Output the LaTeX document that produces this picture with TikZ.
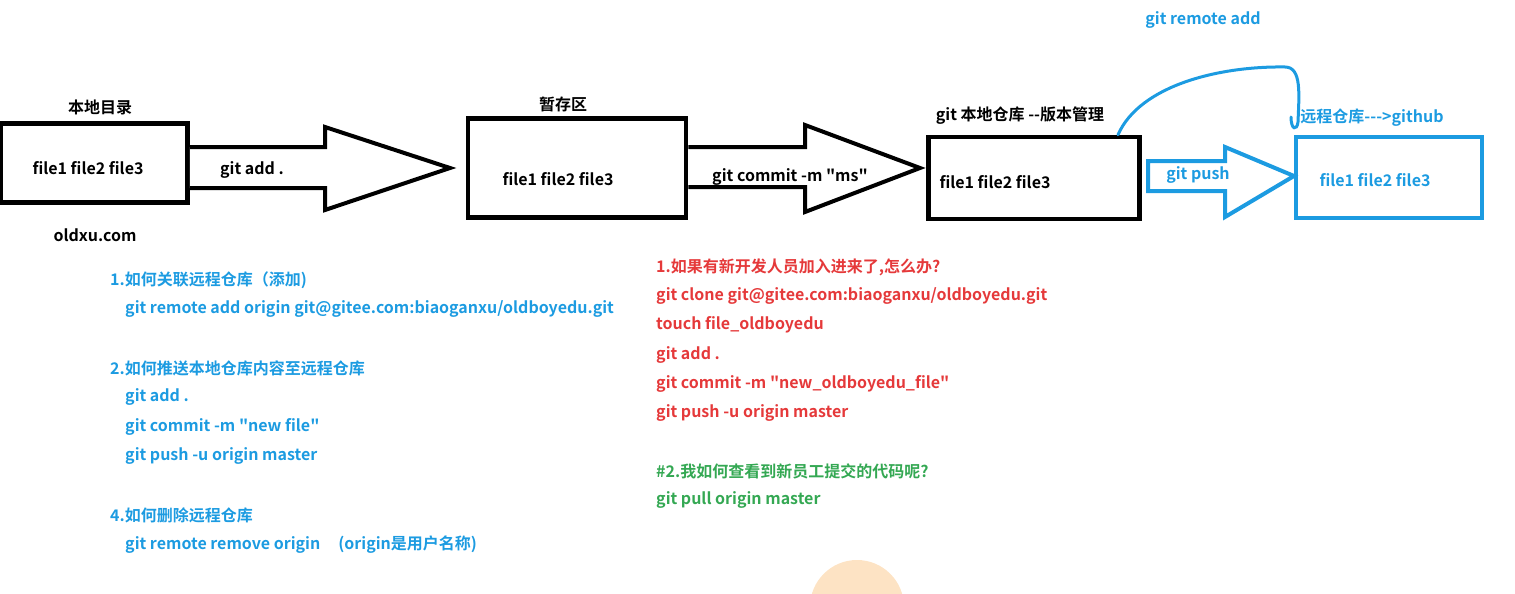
\documentclass[tikz,border=0pt]{standalone}
\usepackage{fontspec}
\newfontfamily\gitfont{Noto Sans CJK SC}[BoldFont={Noto Sans CJK SC Bold}]
\usetikzlibrary{positioning}
\definecolor{gitblue}{RGB}{28,155,225}
\definecolor{gitred}{RGB}{229,57,58}
\definecolor{gitgreen}{RGB}{52,168,83}
\definecolor{peach}{RGB}{253,227,196}
\tikzset{box/.style={draw=black,line width=4.5pt,inner sep=0pt},
  rbox/.style={draw=gitblue,line width=4pt,inner sep=0pt},
  blockarrow/.style={draw=black,line width=4pt,line join=miter,fill=white},
  lbl/.style={font=\gitfont\fontsize{16}{18}\selectfont\bfseries,inner sep=0pt},
  files/.style={lbl},
  note/.style={lbl,anchor=west,text=gitblue},
  redline/.style={lbl,anchor=west,text=gitred},
  greenline/.style={lbl,anchor=west,text=gitgreen}}
\begin{document}
\begin{tikzpicture}[x=1pt,y=-1pt]
  \useasboundingbox (0,0) rectangle (1515,594);
  \fill[peach] (857,607) circle (47);

  % the four places
  \node[box,minimum width=187,minimum height=79] (workdir) at (94,163) {};
  \node[box,minimum width=218,minimum height=99] (stage) at (577,168) {};
  \node[box,minimum width=211,minimum height=82] (repo) at (1034,178) {};
  \node[rbox,minimum width=186,minimum height=81] (remote) at (1389,177) {};

  \node[lbl] (workdirlbl) at (100,107) {本地目录};
  \node[lbl] (stagelbl) at (563,104) {暂存区};
  \node[lbl] (repolbl) at (1020,116) {git 本地仓库 --版本管理};
  \node[lbl,text=gitblue] (remotelbl) at (1372,118) {远程仓库--->github};
  \node[lbl] (site) at (95,235) {oldxu.com};

  \node[files] (f1) at ([shift={(-6,5)}]workdir.center) {file1 file2 file3};
  \node[files] (f2) at ([shift={(-19,11)}]stage.center) {file1 file2 file3};
  \node[files] (f3) at ([shift={(-39,4)}]repo.center) {file1 file2 file3};
  \node[files,text=gitblue] (f4) at ([shift={(-14,3)}]remote.center) {file1 file2 file3};

  % block arrows
  \draw[blockarrow] (workdir.east|-0,147) -- (325,147) -- (325,127) -- (450,168)
    -- (325,210) -- (325,188) -- (workdir.east|-0,188);
  \node[lbl] (addlbl) at (252,170) {git add .};
  \draw[blockarrow] (stage.east|-0,147) -- (805,147) -- (805,125) -- (920,168)
    -- (805,212) -- (805,187) -- (stage.east|-0,187);
  \node[lbl] (commitlbl) at (790,177) {git commit -m "ms"};
  \draw[blockarrow,draw=gitblue] (1148,161) -- (1225,161) -- (1225,147) -- (remote.west|-0,176)
    -- (1225,217) -- (1225,191) -- (1148,191) -- cycle;
  \node[lbl,text=gitblue] (pushlbl) at (1198,175) {git push};

  % git remote add
  \coordinate (hook) at (1291,117);
  \draw[gitblue,line width=3pt,line cap=round] (repo.north-|1118,0) .. controls (1140,85) and (1220,66) .. (1285,67)
    .. controls (1302,67) and (1299,95) .. (1298,122) .. controls (1297,131) and (1291,130) .. (hook);
  \node[lbl,text=gitblue] (remoteadd) at (1203,20) {git remote add};

  % notes, left
  \node[note] (q1) at (110,280) {1.如何关联远程仓库（添加)};
  \node[note] (q1a) at (125,309) {git remote add origin git@gitee.com:biaoganxu/oldboyedu.git};
  \node[note] (q2) at (110,368) {2.如何推送本地仓库内容至远程仓库};
  \node[note] (q2a) at (125,397) {git add .};
  \node[note] (q2b) at (125,427) {git commit -m "new file"};
  \node[note] (q2c) at (125,456) {git push -u origin master};
  \node[note] (q4) at (110,515) {4.如何删除远程仓库};
  \node[note] (q4a) at (125,545) {git remote remove origin\hspace{18pt}(origin是用户名称)};

  % notes, right
  \node[redline] (r1) at (656,267) {1.如果有新开发人员加入进来了,怎么办?};
  \node[redline] (r2) at (656,296) {git clone git@gitee.com:biaoganxu/oldboyedu.git};
  \node[redline] (r3) at (656,325) {touch file\_oldboyedu};
  \node[redline] (r4) at (656,355) {git add .};
  \node[redline] (r5) at (656,384) {git commit -m "new\_oldboyedu\_file"};
  \node[redline] (r6) at (656,413) {git push -u origin master};
  \node[greenline] (g1) at (656,471) {\#2.我如何查看到新员工提交的代码呢?};
  \node[greenline] (g2) at (656,500) {git pull origin master};
\end{tikzpicture}
\end{document}
